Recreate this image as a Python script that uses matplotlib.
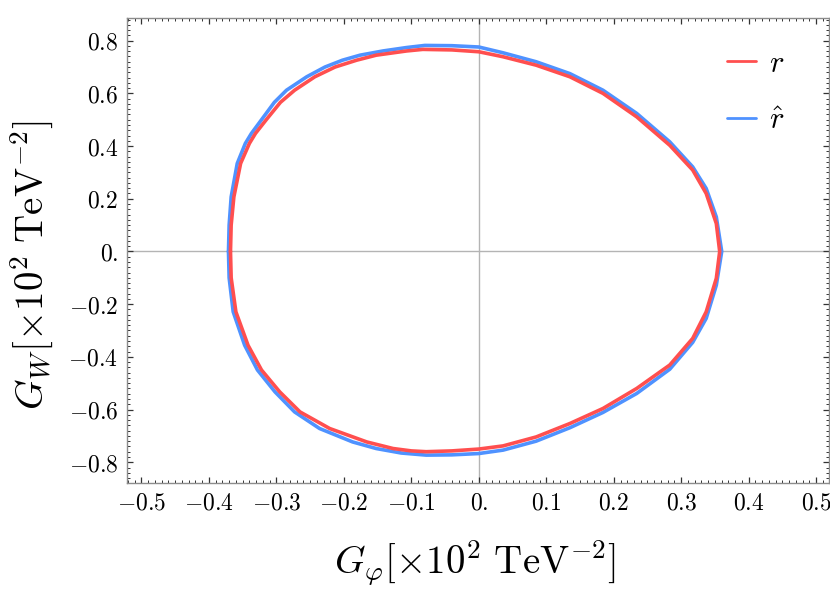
import matplotlib
matplotlib.use("Agg")
import matplotlib.pyplot as plt
from matplotlib.ticker import FixedLocator, FixedFormatter, MultipleLocator

plt.rcParams['mathtext.fontset'] = 'cm'
plt.rcParams['font.family'] = ['DejaVu Serif']

# red curve r (upper half, left -> right)
r_x_up = [-0.368, -0.367, -0.363, -0.353, -0.340, -0.331, -0.315, -0.294, -0.273, -0.243,
          -0.213, -0.181, -0.152, -0.107, -0.083, -0.040, 0.000, 0.036, 0.085, 0.135,
          0.184, 0.234, 0.283, 0.317, 0.337, 0.352, 0.357]
r_y_up = [0.000, 0.100, 0.207, 0.334, 0.410, 0.448, 0.500, 0.566, 0.612, 0.663,
          0.700, 0.726, 0.745, 0.761, 0.767, 0.765, 0.758, 0.739, 0.707, 0.663,
          0.600, 0.511, 0.403, 0.309, 0.220, 0.106, 0.000]
# red curve r (lower half, right -> left)
r_x_lo = [0.357, 0.352, 0.337, 0.317, 0.283, 0.234, 0.184, 0.135, 0.085, 0.036,
          0.000, -0.040, -0.078, -0.100, -0.127, -0.166, -0.221, -0.265, -0.295, -0.322,
          -0.342, -0.360, -0.367, -0.368]
r_y_lo = [0.000, -0.102, -0.229, -0.330, -0.431, -0.520, -0.596, -0.653, -0.704, -0.738,
          -0.750, -0.757, -0.760, -0.757, -0.748, -0.723, -0.672, -0.609, -0.533, -0.450,
          -0.356, -0.229, -0.100, 0.000]

# blue curve r-hat (upper half, left -> right)
b_x_up = [-0.371, -0.370, -0.367, -0.358, -0.346, -0.337, -0.322, -0.303, -0.285, -0.255,
          -0.228, -0.202, -0.176, -0.142, -0.107, -0.080, -0.040, 0.000, 0.036, 0.085,
          0.135, 0.184, 0.234, 0.283, 0.317, 0.337, 0.352, 0.360]
b_y_up = [0.000, 0.100, 0.207, 0.334, 0.410, 0.448, 0.500, 0.566, 0.612, 0.663,
          0.700, 0.726, 0.745, 0.761, 0.774, 0.782, 0.781, 0.776, 0.754, 0.720,
          0.675, 0.612, 0.524, 0.416, 0.321, 0.239, 0.131, 0.000]
# blue curve r-hat (lower half, right -> left)
b_x_lo = [0.360, 0.352, 0.337, 0.317, 0.283, 0.234, 0.184, 0.135, 0.085, 0.036,
          0.000, -0.040, -0.078, -0.115, -0.152, -0.187, -0.236, -0.273, -0.302, -0.328,
          -0.347, -0.364, -0.370, -0.371]
b_y_lo = [0.000, -0.128, -0.254, -0.345, -0.447, -0.539, -0.611, -0.669, -0.720, -0.754,
          -0.767, -0.772, -0.773, -0.765, -0.748, -0.723, -0.672, -0.609, -0.533, -0.450,
          -0.356, -0.229, -0.100, 0.000]

x_ticks = [-0.5, -0.4, -0.3, -0.2, -0.1, 0.0, 0.1, 0.2, 0.3, 0.4, 0.5]
x_tick_labels = ["$-0.5$", "$-0.4$", "$-0.3$", "$-0.2$", "$-0.1$", "$0.$",
                 "$0.1$", "$0.2$", "$0.3$", "$0.4$", "$0.5$"]
y_ticks = [-0.8, -0.6, -0.4, -0.2, 0.0, 0.2, 0.4, 0.6, 0.8]
y_tick_labels = ["$-0.8$", "$-0.6$", "$-0.4$", "$-0.2$", "$0.$",
                 "$0.2$", "$0.4$", "$0.6$", "$0.8$"]

red = '#FF4F4F'
blue = '#4F92FF'

fig = plt.figure(figsize=(8.30, 5.92), dpi=100)
ax = fig.add_axes([0.1525, 0.1836, 0.8463, 0.7855])

ax.axhline(0, color='#b4b4b4', lw=1.0, zorder=1)
ax.axvline(0, color='#b4b4b4', lw=1.0, zorder=1)

ax.plot(r_x_up + r_x_lo, r_y_up + r_y_lo, color=red, lw=2.6, label='$r$', zorder=3,
        solid_joinstyle='round', solid_capstyle='round')
ax.plot(b_x_up + b_x_lo, b_y_up + b_y_lo, color=blue, lw=2.6, label=r'$\hat{r}$', zorder=2,
        solid_joinstyle='round', solid_capstyle='round')

ax.set_xlim(-0.522, 0.519)
ax.set_ylim(-0.88, 0.885)

ax.xaxis.set_major_locator(FixedLocator(x_ticks))
ax.xaxis.set_major_formatter(FixedFormatter(x_tick_labels))
ax.yaxis.set_major_locator(FixedLocator(y_ticks))
ax.yaxis.set_major_formatter(FixedFormatter(y_tick_labels))
ax.xaxis.set_minor_locator(MultipleLocator(0.01))
ax.yaxis.set_minor_locator(MultipleLocator(0.02))

ax.tick_params(which='both', direction='in', top=True, right=True, color='#333333',
               labelsize=17, pad=6)
ax.tick_params(which='major', length=4.5, width=0.9)
ax.tick_params(which='minor', length=2.5, width=0.7)
for s in ax.spines.values():
    s.set_color('#8c8c8c')
    s.set_linewidth(1.0)

fig.text(0.572, 0.049, r'$G_{\varphi}[\times 10^2\ \mathrm{TeV}^{-2}]$', fontsize=28,
         ha='center', va='center')
fig.text(0.0386, 0.552, r'$G_{W}[\times 10^2\ \mathrm{TeV}^{-2}]$', fontsize=28,
         ha='center', va='center', rotation=90)

leg = ax.legend(loc='upper right', bbox_to_anchor=(0.975, 0.995), frameon=False,
                fontsize=22, handlelength=0.95, handletextpad=0.4, labelspacing=0.85)
for h in leg.legend_handles:
    h.set_linewidth(2.0)

fig.savefig('out.png', dpi=100)
